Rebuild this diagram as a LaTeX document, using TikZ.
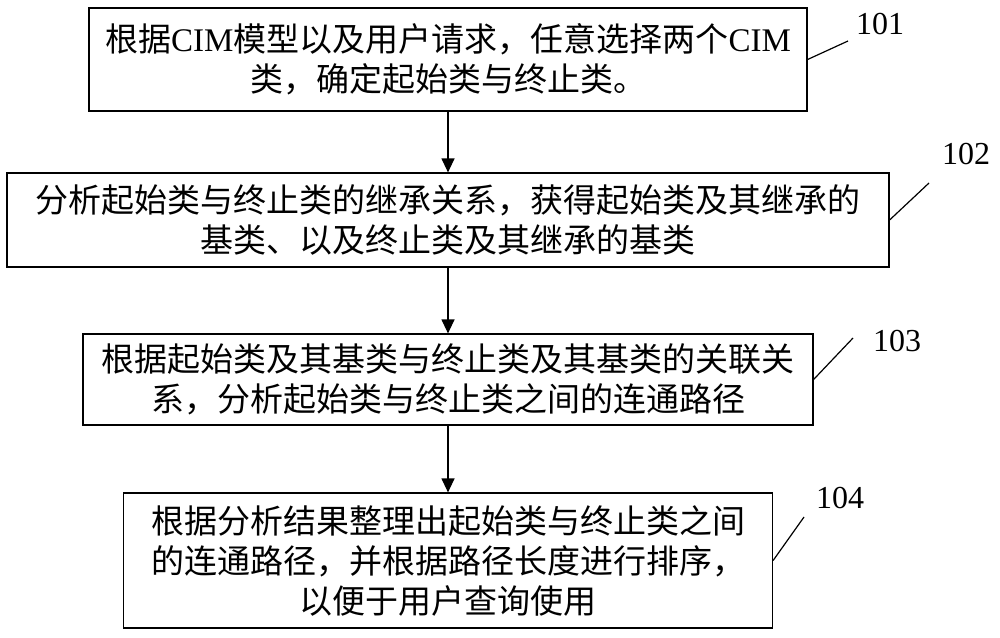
\documentclass[tikz,border=0pt]{standalone}
\usepackage{fontspec}
\setmainfont{Liberation Serif}
\newfontfamily\cjk{Noto Sans CJK SC}
\usetikzlibrary{arrows.meta}
\newcommand{\lat}[1]{{\rmfamily #1}}

\begin{document}
\begin{tikzpicture}[x=0.5pt, y=-0.5pt,
    stepbox/.style={draw, line width=0.6pt, align=center, inner sep=0pt,
        font=\cjk\fontsize{16.5}{20}\selectfont},
    tag/.style={font=\fontsize{16}{18}\selectfont},
    flow/.style={-{Triangle[width=6.5pt,length=7pt]}, line width=0.6pt},
    lead/.style={line width=0.6pt}]
    \useasboundingbox (0,0) rectangle (1000,637);
    % Steps
    \node[stepbox, minimum width=359pt, minimum height=51.5pt] (b1) at (448,59.5)
        {根据\lat{CIM}模型以及用户请求，任意选择两个\lat{CIM}\\类，确定起始类与终止类。};
    \node[stepbox, minimum width=441pt, minimum height=47pt] (b2) at (448,220)
        {分析起始类与终止类的继承关系，获得起始类及其继承的\\基类、以及终止类及其继承的基类};
    \node[stepbox, minimum width=365pt, minimum height=45.5pt] (b3) at (448,379.5)
        {根据起始类及其基类与终止类及其基类的关联关\\系，分析起始类与终止类之间的连通路径};
    \node[stepbox, minimum width=324.5pt, minimum height=67.5pt] (b4) at (448,560.5)
        {根据分析结果整理出起始类与终止类之间\\的连通路径，并根据路径长度进行排序，\\以便于用户查询使用};
    % Arrows between steps
    \draw[flow] (b1.south) -- (b2.north);
    \draw[flow] (b2.south) -- (b3.north);
    \draw[flow] (b3.south) -- (b4.north);
    % Step numbers
    \node[tag] (n1) at (880,24) {101};
    \node[tag] (n2) at (966,154) {102};
    \node[tag] (n3) at (897,341) {103};
    \node[tag] (n4) at (840,498) {104};
    \coordinate (t1) at (848,41);
    \coordinate (t2) at (929,183);
    \coordinate (t3) at (853,338);
    \coordinate (t4) at (804,517);
    \draw[lead] (b1.east) -- (t1);
    \draw[lead] (b2.east) -- (t2);
    \draw[lead] (b3.east) -- (t3);
    \draw[lead] (b4.east) -- (t4);
\end{tikzpicture}
\end{document}
